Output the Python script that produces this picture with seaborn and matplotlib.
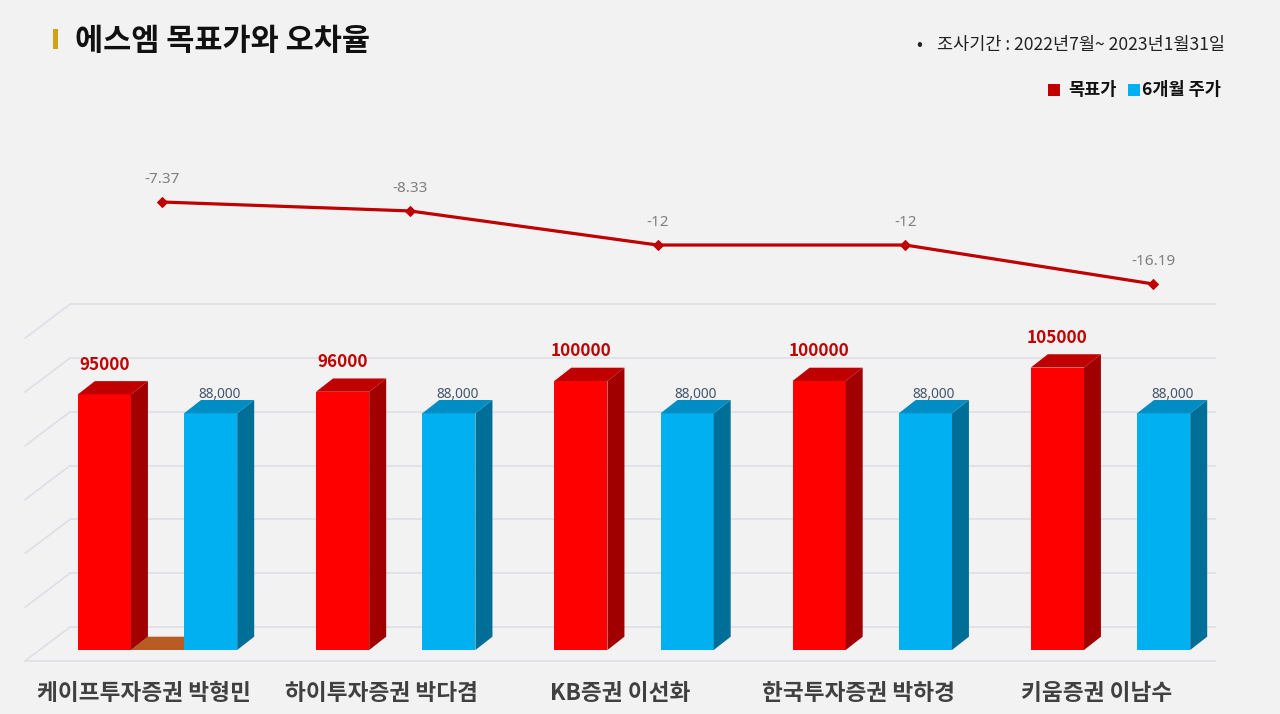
import numpy as np
import pandas as pd
import matplotlib
matplotlib.use("Agg")
import matplotlib.pyplot as plt
from matplotlib.patches import Polygon
import matplotlib.transforms as mtransforms
import seaborn as sns

analysts = ["케이프투자증권 박형민", "하이투자증권 박다겸", "KB증권 이선화", "한국투자증권 박하경", "키움증권 이남수"]
target_price = [95000, 96000, 100000, 100000, 105000]
stock_price = [88000, 88000, 88000, 88000, 88000]
error_rate = [-7.37, -8.33, -12, -12, -16.19]
grid_values = [0, 20000, 40000, 60000, 80000, 100000, 120000]

sns.set_theme(style="white")
plt.rcParams['font.family'] = ['Noto Sans CJK KR', 'DejaVu Sans']
num_font = ['Noto Sans', 'DejaVu Sans']

df = pd.DataFrame({
    "애널리스트": analysts * 2,
    "가격": target_price + stock_price,
    "구분": ["목표가"] * 5 + ["6개월 주가"] * 5,
})

W, H = 1280, 714
fig = plt.figure(figsize=(W / 100, H / 100), dpi=100, facecolor="#F2F2F2")

# bar axes, laid over the whole figure
ax = fig.add_axes([0, 0, 1, 1])
ax.set_facecolor("none")
ppx = 238.25      # px per category
ppy = 0.00269     # px per won
x0_px, y0_px = 157.5, 650
sns.barplot(data=df, x="애널리스트", y="가격", hue="구분",
            palette=["#FF0000", "#00B0F0"], saturation=1,
            width=0.892, gap=0.5, linewidth=0, legend=False, ax=ax, zorder=3)
ax.set_xlim(-x0_px / ppx, (W - x0_px) / ppx)
ax.set_ylim(-(H - y0_px) / ppy, y0_px / ppy)
ax.axis("off")

dx, dy = 17 / ppx, 13.3 / ppy

# perspective grid (back wall + left wall)
wall_off = 23 / ppy
gx0, gx1 = (70 - x0_px) / ppx, (1215 - x0_px) / ppx
ddx, ddy = 45 / ppx, 34 / ppy
gcol = "#DEDFE6"
for v in grid_values:
    yb = v + wall_off
    ax.plot([gx0, gx1], [yb, yb], color=gcol, lw=1.2, zorder=1)
    ax.plot([gx0 - ddx, gx0], [yb - ddy, yb], color=gcol, lw=1.2, zorder=1)
ax.plot([gx0 - ddx, gx1], [wall_off - ddy, wall_off - ddy], color=gcol, lw=1.2, zorder=1)

side_cols = ["#A00000", "#006F98"]
top_cols = ["#C00000", "#008DC4"]
patches = list(ax.patches)
for k, p in enumerate(patches):
    s = k // len(analysts)
    x, w, h = p.get_x(), p.get_width(), p.get_height()
    ax.add_patch(Polygon([(x + w, 0), (x + w + dx, dy), (x + w + dx, h + dy), (x + w, h)],
                         closed=True, fc=side_cols[s], ec="none", zorder=3))
    ax.add_patch(Polygon([(x, h), (x + dx, h + dy), (x + w + dx, h + dy), (x + w, h)],
                         closed=True, fc=top_cols[s], ec="none", zorder=3))
    if s == 0:
        ax.annotate(f"{h:.0f}", (x + w / 2, h), xytext=(0, 21.5), textcoords="offset points",
                    ha="center", va="center", fontsize=12.3, fontweight="bold", color="#C00000",
                    zorder=5)
    else:
        ax.annotate(f"{h:,.0f}", (x + w / 2 + dx / 2, h), xytext=(0, 13.5), textcoords="offset points",
                    ha="center", va="center", fontsize=9.8, color="#44546A", family=num_font, zorder=5)

# flat floor piece between the first pair of bars
r = patches[0].get_x() + patches[0].get_width()
b = patches[len(analysts)].get_x()
ax.add_patch(Polygon([(r, 0), (r + dx, dy), (b + dx, dy), (b, 0)],
                     closed=True, fc="#B85C23", ec="none", zorder=2.5))

# category labels
tr = mtransforms.blended_transform_factory(ax.transData, fig.transFigure)
for i, name in enumerate(analysts):
    ax.text(i - 14 / ppx, (H - 693) / H, name, transform=tr, ha="center", va="center",
            fontsize=16.3, fontweight="bold", color="#404040")

# error-rate line
ax2 = fig.add_axes([0, 0, 1, 1])
ax2.set_facecolor("none")
lx0, lppx = 162, 247.75
ly_px, lppy = 202, 9.29
sns.lineplot(x=list(range(len(error_rate))), y=error_rate, ax=ax2, color="#C00000",
             lw=2.3, marker="D", markersize=5.5, markeredgecolor="#C00000")
ax2.set_xlim(-lx0 / lppx, (W - lx0) / lppx)
ax2.set_ylim(error_rate[0] - (H - ly_px) / lppy, error_rate[0] + ly_px / lppy)
ax2.axis("off")
for i, v in enumerate(error_rate):
    ax2.annotate(f"{v:g}", (i, v), xytext=(0, 16), textcoords="offset points",
                 ha="center", va="center", fontsize=11, color="#7F7F7F", family=num_font)

# title, period, legend
fig.patches.append(plt.Rectangle((53 / W, 1 - 49 / H), 5 / W, 20 / H,
                                 transform=fig.transFigure, fc="#D4A017", ec="none"))
fig.text(75 / W, 1 - 41 / H, "에스엠 목표가와 오차율", fontsize=22, fontweight="bold",
         color="#111111", va="center", ha="left")
fig.text(916 / W, 1 - 45 / H, "•", fontsize=12.6, color="#222222", va="center", ha="left")
fig.text(1225 / W, 1 - 45 / H, "조사기간 : 2022년7월~ 2023년1월31일", fontsize=12.6,
         color="#222222", va="center", ha="right")
fig.patches.append(plt.Rectangle((1048 / W, 1 - 96 / H), 12 / W, 12 / H,
                                 transform=fig.transFigure, fc="#C00000", ec="none"))
fig.text(1068 / W, 1 - 90 / H, "목표가", fontsize=12.6, fontweight="bold", color="#111111", va="center")
fig.patches.append(plt.Rectangle((1128 / W, 1 - 96 / H), 12 / W, 12 / H,
                                 transform=fig.transFigure, fc="#00B0F0", ec="none"))
fig.text(1142 / W, 1 - 90 / H, "6개월 주가", fontsize=12.6, fontweight="bold", color="#111111", va="center")

fig.savefig("out.png", dpi=100, facecolor=fig.get_facecolor())
